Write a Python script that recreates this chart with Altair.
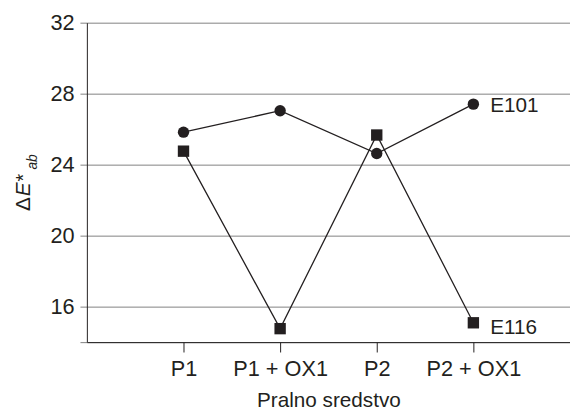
import altair as alt
import pandas as pd

categories = ["P1", "P1 + OX1", "P2", "P2 + OX1"]
positions = [1, 2, 3, 4]
e101 = [25.83, 27.04, 24.63, 27.41]
e116 = [24.76, 14.76, 25.67, 15.09]
series = ["E101", "E116"]
y_ticks = [14, 16, 20, 24, 28, 32]

INK = "#231f20"
FONT = "Liberation Sans"

rows = []
for s, vals in zip(series, [e101, e116]):
    for c, p, v in zip(categories, positions, vals):
        rows.append({"series": s, "cat": c, "pos": p, "value": v})
df = pd.DataFrame(rows)

label_expr = " : ".join(
    [f"datum.value == {p} ? '{c}'" for p, c in zip(positions, categories)]
) + " : ''"

x = alt.X(
    "pos:Q",
    scale=alt.Scale(domain=[0, 5], nice=False, zero=False),
    axis=alt.Axis(
        values=positions, labelExpr=label_expr, grid=False, title="Pralno sredstvo",
        tickSize=10, tickColor=INK, domainColor=INK, labelPadding=7,
        titlePadding=10, titleFontSize=21,
    ),
)
y = alt.Y(
    "value:Q",
    scale=alt.Scale(domain=[14, 32], nice=False, zero=False),
    axis=alt.Axis(
        values=y_ticks, labelExpr="datum.value == 14 ? '' : datum.label",
        grid=True, gridColor="#808080", gridWidth=1, title=None,
        tickSize=7, tickColor="#808080", domainColor=INK, labelPadding=6,
    ),
)

base = alt.Chart(df)
lines = base.mark_line(color=INK, strokeWidth=1.3).encode(
    x=x, y=y, detail="series:N", order="pos:Q"
)
points = base.mark_point(filled=True, size=133, opacity=1, color=INK).encode(
    x=x, y=y,
    shape=alt.Shape("series:N", scale=alt.Scale(domain=series, range=["circle", "square"]), legend=None),
)

last = df[df["pos"] == positions[-1]]
lab101 = alt.Chart(last[last["series"] == "E101"]).mark_text(
    align="left", baseline="middle", dx=17, dy=2, fontSize=21, font=FONT, color=INK
).encode(x=x, y=y, text="series:N")
lab116 = alt.Chart(last[last["series"] == "E116"]).mark_text(
    align="left", baseline="middle", dx=17, dy=5, fontSize=21, font=FONT, color=INK
).encode(x=x, y=y, text="series:N")

def piece(txt, px, py, size, style="normal"):
    return alt.Chart(pd.DataFrame({"t": [txt]})).mark_text(
        align="left", baseline="alphabetic", angle=270, fontSize=size,
        font=FONT, fontStyle=style, color=INK,
    ).encode(x=alt.value(px), y=alt.value(py), text="t:N")

ytitle = alt.layer(
    piece("Δ", -58, 191, 21),
    piece("E", -58, 176, 21, "italic"),
    piece("*", -58, 161, 20),
    piece("ab", -51, 149, 14, "italic"),
)

chart = alt.layer(lines, points, lab101, lab116, ytitle).properties(
    width=490, height=324,
    autosize=alt.AutoSizeParams(type="none"),
    padding={"left": 80, "top": 12, "right": 0, "bottom": 70},
).configure_axis(
    labelFont=FONT, titleFont=FONT, labelFontSize=22, titleFontSize=22,
    labelColor=INK, titleColor=INK, titleFontWeight="normal",
).configure_view(stroke=None)

chart.save("out.html", embed_options={"renderer": "svg", "actions": False})
